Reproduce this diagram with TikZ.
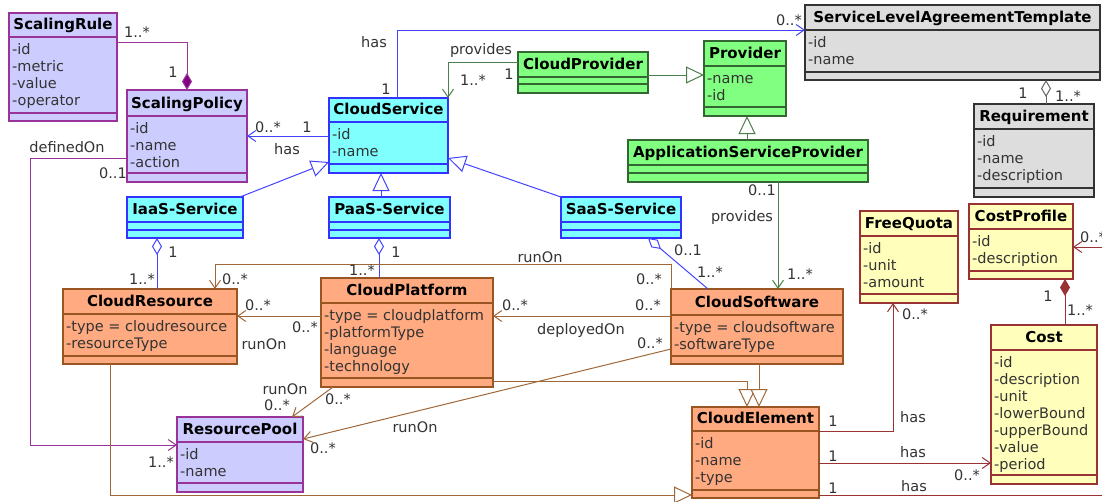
\documentclass[tikz,border=0pt]{standalone}
\usepackage{fontspec}
\setmainfont{DejaVu Sans}
\usetikzlibrary{arrows.meta}
\definecolor{pFill}{HTML}{CCCCFF}
\definecolor{pLine}{HTML}{993399}
\definecolor{pDark}{HTML}{800080}
\definecolor{bFill}{HTML}{80FFFF}
\definecolor{bLine}{HTML}{3333FF}
\definecolor{bCon}{HTML}{4444FF}
\definecolor{gFill}{HTML}{80FF80}
\definecolor{gLine}{HTML}{336633}
\definecolor{gCon}{HTML}{4D7F4D}
\definecolor{kFill}{HTML}{DDDDDD}
\definecolor{kLine}{HTML}{333333}
\definecolor{kCon}{HTML}{666666}
\definecolor{oFill}{HTML}{FFAA80}
\definecolor{oLine}{HTML}{995522}
\definecolor{oCon}{HTML}{A0683A}
\definecolor{yFill}{HTML}{FFFFBB}
\definecolor{yLine}{HTML}{993333}
\definecolor{yCon}{HTML}{993333}
\definecolor{txt}{HTML}{333333}
\newcommand\attrfont{\fontsize{14.5}{17}\selectfont}
\newcommand\clsfont{\fontsize{15}{17}\selectfont\bfseries}
\newcommand\lastx{0}
\newcommand\lasth{0}
\newcommand{\umlclass}[9]{%
  \node[box, draw=#2Line, fill=#2Fill, minimum width={(#5-#3)*1pt}, minimum height={(#6-#4)*1pt}] (#1) at (#3,#4) {};
  \draw[draw=#2Line, line width=1.2pt] (#3,#7) -- (#5,#7) (#3,#8) -- (#5,#8);
  \node[clsname] (#1-t) at ({(#3+#5)/2},{#7-7.5}) {#9};
  \gdef\lastx{#3}\gdef\lasth{#7}%
}
\newcommand{\umlattrs}[2]{%
  \node[attr] (#1-a) at (\lastx+3,\lasth+5) {\strut #2};%
}
\tikzset{
  box/.style={anchor=north west, inner sep=0pt, outer sep=0pt, line width=1.2pt},
  clsname/.style={font=\clsfont, anchor=base, inner sep=0pt, text=black},
  attr/.style={font=\attrfont, align=left, anchor=north west, inner sep=0pt, text=txt},
  lbl/.style={font=\attrfont, inner sep=0pt, text=txt},
  con/.style={draw=#1, line width=1pt},
  oarr/.style={-{Straight Barb[length=8pt,width=11pt]}},
  gen/.style={-{Triangle[length=18pt,width=17pt,fill=white]}},
  aggr/.style={{Diamond[length=17pt,width=10pt,fill=white]}-},
}
\begin{document}
\begin{tikzpicture}[x=1pt,y=-1pt]
\useasboundingbox (0,0) rectangle (1102,501);
\fill[white] (0,0) rectangle (1102,501);

% classes
\umlclass{sr}{p}{9}{13}{117}{121}{37}{113}{ScalingRule}
\umlattrs{sr}{-id\\-metric\\-value\\-operator}
\umlclass{sp}{p}{127}{90}{247}{182}{116}{173}{ScalingPolicy}
\umlattrs{sp}{-id\\-name\\-action}
\umlclass{cs}{b}{329}{98}{448}{173}{122}{164}{CloudService}
\umlattrs{cs}{-id\\-name}
\umlclass{cp}{g}{518}{52}{648}{93}{77}{84}{CloudProvider}
\umlclass{pr}{g}{704}{41}{786}{116}{66}{107}{Provider}
\umlattrs{pr}{-name\\-id}
\umlclass{sla}{k}{805}{5}{1100}{80}{30}{72}{ServiceLevelAgreementTemplate}
\umlattrs{sla}{-id\\-name}
\umlclass{req}{k}{974}{104}{1094}{197}{129}{188}{Requirement}
\umlattrs{req}{-id\\-name\\-description}
\umlclass{asp}{g}{628}{140}{868}{182}{165}{173}{ApplicationServiceProvider}
\umlclass{iaas}{b}{127}{197}{243}{238}{222}{230}{IaaS-Service}
\umlclass{paas}{b}{329}{197}{450}{238}{222}{230}{PaaS-Service}
\umlclass{saas}{b}{561}{197}{681}{238}{222}{230}{SaaS-Service}
\umlclass{cr}{o}{63}{289}{237}{364}{314}{356}{CloudResource}
\umlattrs{cr}{-type = cloudresource\\-resourceType}
\umlclass{cpl}{o}{321}{278}{493}{387}{303}{378}{CloudPlatform}
\umlattrs{cpl}{-type = cloudplatform\\-platformType\\-language\\-technology}
\umlclass{csw}{o}{671}{289}{843}{364}{315}{356}{CloudSoftware}
\umlattrs{csw}{-type = cloudsoftware\\-softwareType}
\umlclass{fq}{y}{860}{211}{958}{303}{236}{294}{FreeQuota}
\umlattrs{fq}{-id\\-unit\\-amount}
\umlclass{cpf}{y}{969}{204}{1073}{279}{229}{271}{CostProfile}
\umlattrs{cpf}{-id\\-description}
\umlclass{cost}{y}{991}{325}{1097}{484}{350}{475}{Cost}
\umlattrs{cost}{-id\\-description\\-unit\\-lowerBound\\-upperBound\\-value\\-period}
\umlclass{rp}{p}{177}{417}{303}{492}{442}{483}{ResourcePool}
\umlattrs{rp}{-id\\-name}
\umlclass{ce}{o}{692}{407}{819}{498}{431}{490}{CloudElement}
\umlattrs{ce}{-id\\-name\\-type}

% connectors
\draw[con=pLine, -{Diamond[length=17pt,width=10pt,fill=pDark]}] ([shift={(0,29)}]sr.north east) -| ([shift={(60,0)}]sp.north west);
\draw[con=bCon, oarr] ([shift={(0,38)}]cs.north west) -- ([shift={(0,46)}]sp.north east);
\draw[con=pLine, oarr] ([shift={(0,68)}]sp.north west) -- ++(-97,0) |- ([shift={(0,28)}]rp.north west);
\draw[con=bCon, oarr] ([shift={(68,0)}]cs.north west) |- ([shift={(0,25)}]sla.north west);
\draw[con=gCon, oarr] ([shift={(0,10)}]cp.north west) -| (cs.north east);
\draw[con=gCon, gen] ([shift={(0,23)}]cp.north east) -- ([shift={(0,34)}]pr.north west);
\draw[con=gCon, gen] ([shift={(119,0)}]asp.north west) -- ([shift={(43,0)}]pr.south west);
\draw[con=gCon, oarr] ([shift={(150,0)}]asp.south west) -- ([shift={(107,0)}]csw.north west);
\draw[con=bCon, gen] ([shift={(-3,0)}]iaas.north east) -- ([shift={(0,64)}]cs.north west);
\draw[con=bCon, gen] ([shift={(52,0)}]paas.north west) -- ([shift={(52,0)}]cs.south west);
\draw[con=bCon, gen] (saas.north west) -- ([shift={(0,60)}]cs.north east);
\draw[con=bCon, aggr] ([shift={(30,0)}]iaas.south west) -- ([shift={(94,0)}]cr.north west);
\draw[con=bCon, aggr] ([shift={(50,0)}]paas.south west) -- ([shift={(58,0)}]cpl.north west);
\draw[con=bCon, aggr] ([shift={(87,0)}]saas.south west) -- ([shift={(37,0)}]csw.north west);
\draw[con=oCon, oarr] (csw.north west) -- ++(0,-25) -| ([shift={(152,0)}]cr.north west);
\draw[con=oCon, oarr] ([shift={(0,38)}]cpl.north west) -- ([shift={(0,27)}]cr.north east);
\draw[con=oCon, oarr] ([shift={(0,27)}]csw.north west) -- ([shift={(0,38)}]cpl.north east);
\draw[con=oCon, oarr] ([shift={(0,60)}]csw.north west) -- ([shift={(0,22)}]rp.north east);
\draw[con=oCon, oarr] ([shift={(12,0)}]cpl.south west) -- ([shift={(-11,0)}]rp.north east);
\draw[con=oCon, gen] ([shift={(0,103)}]cpl.north east) -| ([shift={(55,0)}]ce.north west);
\draw[con=oCon, gen] ([shift={(88,0)}]csw.south west) -- ([shift={(67,0)}]ce.north west);
\draw[con=oCon, gen] ([shift={(47,0)}]cr.south west) |- ([shift={(0,88)}]ce.north west);
\draw[con=yCon, oarr] ([shift={(0,24)}]ce.north east) -| ([shift={(33,0)}]fq.south west);
\draw[con=yCon, oarr] ([shift={(0,56)}]ce.north east) -- ([shift={(0,138)}]cost.north west);
\draw[con=yCon, oarr] ([shift={(0,88)}]ce.north east) -- ++(300,0) |- ([shift={(0,43)}]cpf.north east);
\draw[con=yCon, {Diamond[length=17pt,width=10pt,fill=yCon]}-] ([shift={(96,0)}]cpf.south west) -- ([shift={(74,0)}]cost.north west);
\draw[con=kCon, aggr] ([shift={(241,0)}]sla.south west) -- ([shift={(72,0)}]req.north west);

% labels
\node[lbl] (l1) at (137,32) {1..*};
\node[lbl] (l2) at (173,72) {1};
\node[lbl] (l3) at (268,127) {0..*};
\node[lbl] (l4) at (307,127) {1};
\node[lbl] (l5) at (287,149) {has};
\node[lbl] (l6) at (67,147) {definedOn};
\node[lbl] (l7) at (113,173) {0..1};
\node[lbl] (l8) at (374,42) {has};
\node[lbl] (l9) at (386,89) {1};
\node[lbl] (l10) at (481,50) {provides};
\node[lbl] (l11) at (473,80) {1..*};
\node[lbl] (l12) at (509,74) {1};
\node[lbl] (l13) at (789,20) {0..*};
\node[lbl] (l14) at (1023,93) {1};
\node[lbl] (l15) at (1068,96) {1..*};
\node[lbl] (l16) at (762,190) {0..1};
\node[lbl] (l17) at (742,217) {provides};
\node[lbl] (l18) at (800,274) {1..*};
\node[lbl] (l19) at (688,250) {0..1};
\node[lbl] (l20) at (710,272) {1..*};
\node[lbl] (l21) at (540,257) {runOn};
\node[lbl] (l22) at (649,279) {0..*};
\node[lbl] (l23) at (648,305) {0..*};
\node[lbl] (l24) at (515,305) {0..*};
\node[lbl] (l25) at (581,330) {deployedOn};
\node[lbl] (l26) at (650,343) {0..*};
\node[lbl] (l27) at (173,252) {1};
\node[lbl] (l28) at (142,279) {1..*};
\node[lbl] (l29) at (235,279) {0..*};
\node[lbl] (l30) at (362,270) {1..*};
\node[lbl] (l31) at (396,252) {1};
\node[lbl] (l32) at (258,305) {0..*};
\node[lbl] (l33) at (305,327) {0..*};
\node[lbl] (l34) at (264,344) {runOn};
\node[lbl] (l35) at (285,389) {runOn};
\node[lbl] (l36) at (277,405) {0..*};
\node[lbl] (l37) at (338,399) {0..*};
\node[lbl] (l38) at (323,448) {0..*};
\node[lbl] (l39) at (161,462) {1..*};
\node[lbl] (l40) at (415,427) {runOn};
\node[lbl] (l41) at (833,421) {1};
\node[lbl] (l42) at (913,417) {has};
\node[lbl] (l43) at (833,456) {1};
\node[lbl] (l44) at (913,452) {has};
\node[lbl] (l45) at (967,475) {0..*};
\node[lbl] (l46) at (833,488) {1};
\node[lbl] (l47) at (914,486) {has};
\node[lbl] (l48) at (915,314) {0..*};
\node[lbl] (l49) at (1048,296) {1};
\node[lbl] (l50) at (1080,310) {1..*};
\node[lbl, anchor=west] (l51) at (1080,237) {0..*};
\end{tikzpicture}
\end{document}
